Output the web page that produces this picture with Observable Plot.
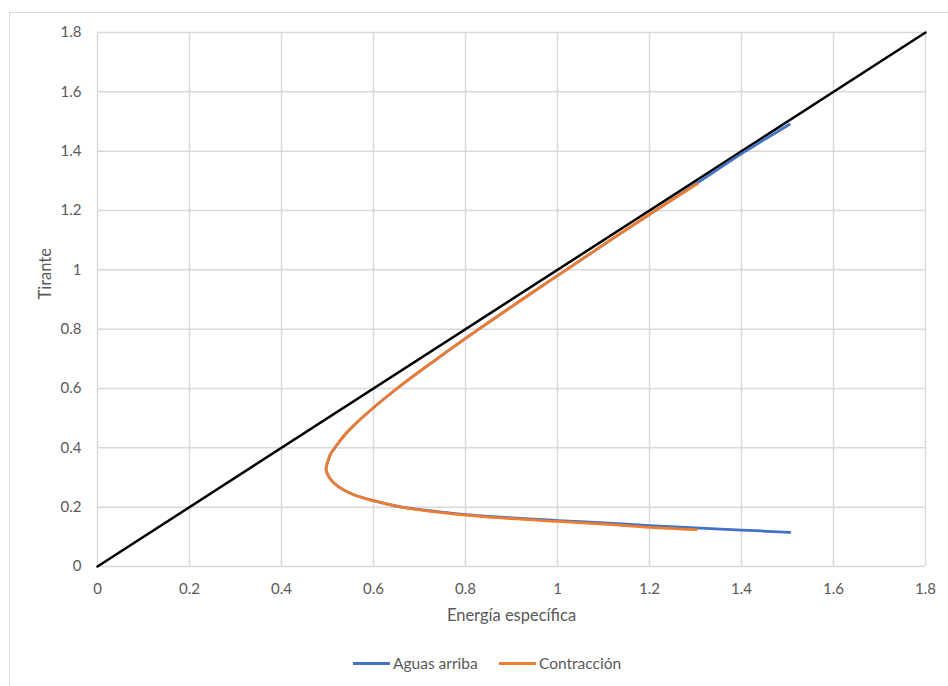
<!DOCTYPE html>
<html>
<head>
<meta charset="utf-8">
<script src="https://cdn.jsdelivr.net/npm/d3@7"></script>
<script src="https://cdn.jsdelivr.net/npm/@observablehq/plot@0.6"></script>
<style>
  html, body { margin: 0; padding: 0; background: #fff; }
  #wrap { position: relative; width: 948px; height: 686px; overflow: hidden; font-family: Lato, "Open Sans", sans-serif; }
  #frame { position: absolute; left: 9px; top: 12px; width: 1000px; height: 1000px; border: 1px solid #d9d9d9; box-sizing: border-box; }
  #chart { position: absolute; left: 0; top: 0; }
  #legend { position: absolute; top: 653px; left: 0; width: 948px; height: 20px; font-size: 15.5px; color: #595959; }
  .item { position: absolute; top: 0; display: flex; align-items: center; height: 20px; }
  .sw { width: 37px; height: 3px; margin-right: 3px; }
</style>
</head>
<body>
<div id="wrap">
  <div id="frame"></div>
  <div id="chart"></div>
  <div id="legend">
    <div class="item" style="left:353px"><span class="sw" style="background:#4472C4"></span><span>Aguas arriba</span></div>
    <div class="item" style="left:499px"><span class="sw" style="background:#ED7D31"></span><span>Contracción</span></div>
  </div>
</div>
<script>
// Tick values
const xTicks = [0, 0.2, 0.4, 0.6, 0.8, 1, 1.2, 1.4, 1.6, 1.8];
const yTicks = [0, 0.2, 0.4, 0.6, 0.8, 1, 1.2, 1.4, 1.6, 1.8];

// Reference line E = y
const refE = [0, 1.8];
const refY = [0, 1.8];

// Aguas arriba (upper end -> minimum -> lower end)
const aguasE = [1.504, 1.409, 1.311, 1.213, 1.115, 1.019, 0.923, 0.829, 0.738, 0.651, 0.574, 0.541, 0.516, 0.507, 0.502, 0.498, 0.497, 0.504, 0.515, 0.533, 0.560, 0.602, 0.662, 0.740, 0.800, 0.900, 1.000, 1.100, 1.200, 1.300, 1.400, 1.505];
const aguasY = [1.490, 1.400, 1.300, 1.200, 1.100, 1.000, 0.900, 0.800, 0.700, 0.600, 0.500, 0.450, 0.400, 0.380, 0.360, 0.340, 0.325, 0.300, 0.280, 0.260, 0.240, 0.221, 0.200, 0.185, 0.175, 0.164, 0.155, 0.147, 0.138, 0.130, 0.123, 0.115];

// Contracción
const contrE = [1.304, 1.213, 1.115, 1.019, 0.923, 0.829, 0.738, 0.651, 0.574, 0.541, 0.516, 0.507, 0.502, 0.498, 0.497, 0.504, 0.515, 0.533, 0.560, 0.602, 0.662, 0.740, 0.800, 0.900, 1.000, 1.100, 1.200, 1.302];
const contrY = [1.290, 1.200, 1.100, 1.000, 0.900, 0.800, 0.700, 0.600, 0.500, 0.450, 0.400, 0.380, 0.360, 0.340, 0.325, 0.300, 0.280, 0.260, 0.240, 0.221, 0.199, 0.183, 0.173, 0.161, 0.152, 0.143, 0.132, 0.124];

const ref = refE.map((e, i) => ({E: e, y: refY[i]}));
const aguas = aguasE.map((e, i) => ({E: e, y: aguasY[i]}));
const contr = contrE.map((e, i) => ({E: e, y: contrY[i]}));

const fmt = d => String(+d.toFixed(1));
const font = "Lato, 'Open Sans', sans-serif";

const chart = Plot.plot({
  width: 948,
  height: 630,
  marginLeft: 97,
  marginRight: 23,
  marginTop: 32,
  marginBottom: 64,
  style: {fontFamily: font, fontSize: "15px", color: "#595959", background: "transparent", overflow: "visible"},
  x: {domain: [0, 1.8], ticks: xTicks, tickFormat: fmt, label: null},
  y: {domain: [0, 1.8], ticks: yTicks, tickFormat: fmt, label: null},
  marks: [
    Plot.gridX(xTicks, {stroke: "#d9d9d9", strokeOpacity: 1, strokeWidth: 1.5}),
    Plot.gridY(yTicks, {stroke: "#d9d9d9", strokeOpacity: 1, strokeWidth: 1.5}),
    Plot.axisX(xTicks, {tickSize: 0, tickPadding: 17, tickFormat: fmt, fill: "#595959", fontSize: 15, label: null}),
    Plot.axisY(yTicks, {tickSize: 0, tickPadding: 16, tickFormat: fmt, fill: "#595959", fontSize: 15, label: null}),
    Plot.line(ref, {x: "E", y: "y", stroke: "#000", strokeWidth: 2.5}),
    Plot.line(aguas, {x: "E", y: "y", stroke: "#4472C4", strokeWidth: 2.75, curve: "catmull-rom"}),
    Plot.line(contr, {x: "E", y: "y", stroke: "#ED7D31", strokeWidth: 2.75, curve: "catmull-rom"}),
    Plot.text(["Energía específica"], {frameAnchor: "bottom", dy: 49, text: d => d, fill: "#595959", fontSize: 16.5, lineAnchor: "middle"}),
    Plot.text(["Tirante"], {frameAnchor: "left", dx: -52, rotate: -90, text: d => d, fill: "#595959", fontSize: 16.5, lineAnchor: "middle"})
  ]
});
document.getElementById("chart").appendChild(chart);
</script>
</body>
</html>
